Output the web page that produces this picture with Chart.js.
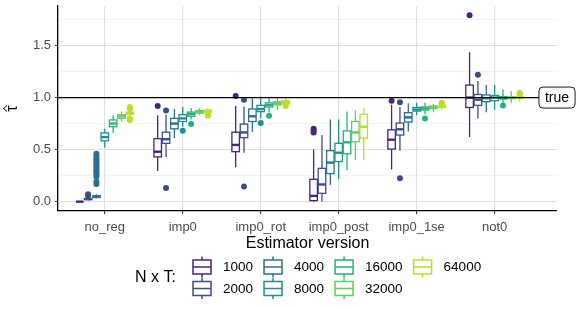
<!DOCTYPE html>
<html>
<head>
<meta charset="utf-8">
<script src="https://cdn.jsdelivr.net/npm/chart.js@4.4.1/dist/chart.umd.min.js"></script>
<style>
  body { margin: 0; background: #fff; }
  #wrap { width: 581px; height: 309px; }
</style>
</head>
<body>
<div id="wrap"><canvas id="grafico" width="581" height="309"></canvas></div>
<script>
// Categorías del eje x
const categories = ['no_reg', 'imp0', 'imp0_rot', 'imp0_post', 'imp0_1se', 'not0'];
// Series N x T
const seriesLabels = ['1000', '2000', '4000', '8000', '16000', '32000', '64000'];
const seriesColors = ['#482576', '#3E4C8A', '#2E6F8E', '#21908C', '#2AB07E', '#64CB5F', '#BBDF27'];

// Cajas por categoría: [bigote inf, q1, mediana, q3, bigote sup]
const box1000 = [[0, 0, 0, 0, 0], [0.295, 0.43, 0.48, 0.605, 0.83], [0.33, 0.48, 0.545, 0.667, 0.92],
                 [0.0, 0.01, 0.055, 0.215, 0.50], [0.31, 0.505, 0.595, 0.69, 0.93], [0.62, 0.905, 1.0, 1.12, 1.435]];
const box2000 = [[0.01, 0.02, 0.025, 0.03, 0.045], [0.43, 0.56, 0.60, 0.667, 0.835], [0.47, 0.615, 0.665, 0.745, 0.915],
                 [0.0, 0.08, 0.165, 0.32, 0.64], [0.49, 0.64, 0.695, 0.755, 0.91], [0.80, 0.925, 0.98, 1.03, 1.16]];
const box4000 = [[0.03, 0.04, 0.05, 0.055, 0.07], [0.61, 0.70, 0.75, 0.80, 0.89], [0.67, 0.77, 0.82, 0.89, 0.995],
                 [0.16, 0.27, 0.375, 0.49, 0.79], [0.675, 0.765, 0.81, 0.855, 0.945], [0.86, 0.96, 0.995, 1.025, 1.12]];
const box8000 = [[0.52, 0.585, 0.62, 0.66, 0.70], [0.72, 0.77, 0.80, 0.835, 0.91], [0.80, 0.865, 0.89, 0.925, 1.01],
                 [0.215, 0.385, 0.47, 0.56, 0.79], [0.83, 0.87, 0.885, 0.905, 0.95], [0.88, 0.97, 1.0, 1.02, 1.12]];
const box16000 = [[0.66, 0.72, 0.75, 0.785, 0.83], [0.79, 0.82, 0.84, 0.86, 0.90], [0.86, 0.91, 0.93, 0.95, 1.0],
                  [0.305, 0.46, 0.57, 0.68, 0.865], [0.84, 0.88, 0.895, 0.91, 0.95], [0.93, 0.985, 0.998, 1.01, 1.08]];
const box32000 = [[0.77, 0.80, 0.82, 0.835, 0.865], [0.83, 0.85, 0.865, 0.875, 0.90], [0.88, 0.93, 0.945, 0.96, 1.0],
                  [0.40, 0.575, 0.665, 0.77, 0.875], [0.86, 0.895, 0.905, 0.92, 0.94], [0.95, 0.99, 1.0, 1.005, 1.06]];
const box64000 = [[0.82, 0.84, 0.85, 0.86, 0.88], [0.84, 0.86, 0.87, 0.88, 0.90], [0.90, 0.94, 0.955, 0.97, 1.0],
                  [0.40, 0.61, 0.72, 0.84, 0.90], [0.88, 0.905, 0.915, 0.925, 0.945], [0.96, 0.995, 1.0, 1.005, 1.04]];

// Valores atípicos: [índice de categoría, valor]
const out1000 = [[1, 0.92], [2, 1.015], [3, 0.70], [3, 0.68], [3, 0.665], [4, 0.97], [5, 1.79]];
const out2000 = [[0, 0.06], [0, 0.07], [1, 0.875], [1, 0.13], [2, 0.98], [2, 0.145], [4, 0.955], [4, 0.225], [5, 1.22]];
const out4000 = [[0, 0.46], [0, 0.44], [0, 0.42], [0, 0.40], [0, 0.38], [0, 0.36], [0, 0.34], [0, 0.32],
                 [0, 0.30], [0, 0.28], [0, 0.26], [0, 0.24], [0, 0.19], [0, 0.17]];
const out8000 = [[1, 0.68], [2, 0.755]];
const out16000 = [[1, 0.745], [2, 0.825], [4, 0.80], [5, 0.925]];
const out32000 = [];
const out64000 = [[0, 0.91], [0, 0.90], [0, 0.89], [0, 0.80], [0, 0.79], [0, 0.785], [1, 0.825], [1, 0.835],
                  [2, 0.92], [4, 0.93], [4, 0.94], [4, 0.95], [5, 1.03], [5, 1.045]];

// Eje y
const yMin = -0.09;
const yMax = 1.88;
const yGridValues = [0, 0.25, 0.5, 0.75, 1, 1.25, 1.5, 1.75];
const yTickValues = [0, 0.5, 1, 1.5];
const yTickLabels = ['0.0', '0.5', '1.0', '1.5'];
const yTitle = 'τ';

// Línea de referencia
const trueValue = 1;
const trueLabel = 'true';

const boxes = [box1000, box2000, box4000, box8000, box16000, box32000, box64000];
const outliers = [out1000, out2000, out4000, out8000, out16000, out32000, out64000];

const FONT = 'Liberation Sans, Arial, sans-serif';
const dodgeWidth = 0.75;
const nSeries = seriesLabels.length;
const boxHalf = dodgeWidth / nSeries * 0.9 / 2;

function posX(ci, si) {
    return ci + 1 + (si - (nSeries - 1) / 2) * dodgeWidth / nSeries;
}

const boxplotPlugin = {
    id: 'boxplots',
    afterDatasetsDraw(chart) {
        const { ctx, scales: { x, y } } = chart;
        ctx.save();
        boxes.forEach((serie, si) => {
            serie.forEach((b, ci) => {
                const cx = posX(ci, si);
                const px = x.getPixelForValue(cx);
                const half = x.getPixelForValue(cx + boxHalf) - px;
                const [lo, q1, med, q3, hi] = b.map(v => y.getPixelForValue(v));
                ctx.strokeStyle = seriesColors[si];
                ctx.lineWidth = 1.3;
                // bigotes
                ctx.beginPath();
                ctx.moveTo(px, hi); ctx.lineTo(px, q3);
                ctx.moveTo(px, q1); ctx.lineTo(px, lo);
                ctx.stroke();
                // caja
                ctx.fillStyle = '#fff';
                ctx.fillRect(px - half, q3, 2 * half, q1 - q3);
                ctx.strokeRect(px - half, q3, 2 * half, q1 - q3);
                // mediana
                ctx.lineWidth = 2.4;
                ctx.beginPath();
                ctx.moveTo(px - half, med); ctx.lineTo(px + half, med);
                ctx.stroke();
            });
        });
        // línea del valor verdadero
        const ty = y.getPixelForValue(trueValue);
        ctx.strokeStyle = '#000';
        ctx.lineWidth = 1.2;
        ctx.beginPath();
        ctx.moveTo(chart.chartArea.left, ty);
        ctx.lineTo(chart.chartArea.right, ty);
        ctx.stroke();
        ctx.restore();
    },
    afterDraw(chart) {
        const { ctx, scales: { x, y } } = chart;
        ctx.save();
        // título del eje y (tau con acento circunflejo), girado
        const area = chart.chartArea;
        ctx.translate(13, (area.top + area.bottom) / 2);
        ctx.rotate(-Math.PI / 2);
        ctx.font = '16px ' + FONT;
        ctx.fillStyle = '#000';
        ctx.textAlign = 'center';
        ctx.textBaseline = 'alphabetic';
        ctx.fillText(yTitle, 0, 4);
        ctx.strokeStyle = '#000';
        ctx.lineWidth = 1;
        ctx.beginPath();
        ctx.moveTo(-3, -6); ctx.lineTo(0, -9.5); ctx.lineTo(3, -6);
        ctx.stroke();
        ctx.setTransform(1, 0, 0, 1, 0, 0);

        // etiqueta "true"
        const lx = x.getPixelForValue(x.max);
        const ly = y.getPixelForValue(trueValue);
        ctx.font = '14px ' + FONT;
        const tw = ctx.measureText(trueLabel).width;
        const w = tw + 12, h = 21;
        ctx.beginPath();
        ctx.roundRect(lx - w / 2, ly - h / 2, w, h, 4);
        ctx.fillStyle = '#fff';
        ctx.fill();
        ctx.strokeStyle = '#000';
        ctx.lineWidth = 0.9;
        ctx.stroke();
        ctx.fillStyle = '#000';
        ctx.textAlign = 'center';
        ctx.textBaseline = 'middle';
        ctx.fillText(trueLabel, lx, ly + 0.5);

        // leyenda
        ctx.font = '16px ' + FONT;
        ctx.textAlign = 'left';
        ctx.fillText('N x T:', 135, 278);
        ctx.font = '13.5px ' + FONT;
        const rows = [267, 288.5];
        let colX = 193;
        for (let c = 0; c * 2 < nSeries; c++) {
            let maxW = 0;
            for (let r = 0; r < 2; r++) {
                const si = c * 2 + r;
                if (si >= nSeries) continue;
                const cy = rows[r];
                ctx.strokeStyle = seriesColors[si];
                ctx.lineWidth = 1.5;
                ctx.beginPath();
                ctx.moveTo(colX + 9, cy - 10.5); ctx.lineTo(colX + 9, cy - 7);
                ctx.moveTo(colX + 9, cy + 7); ctx.lineTo(colX + 9, cy + 10.5);
                ctx.moveTo(colX, cy); ctx.lineTo(colX + 18, cy);
                ctx.stroke();
                ctx.strokeRect(colX, cy - 7, 18, 14);
                ctx.fillStyle = '#000';
                ctx.fillText(seriesLabels[si], colX + 30, cy + 0.5);
                maxW = Math.max(maxW, ctx.measureText(seriesLabels[si]).width);
            }
            colX += 30 + maxW + 11;
        }
        ctx.restore();
    }
};

const datasets = outliers.map((lista, si) => ({
    label: seriesLabels[si],
    data: lista.map(([ci, v]) => ({ x: posX(ci, si), y: v })),
    backgroundColor: seriesColors[si],
    borderWidth: 0,
    pointRadius: 3
}));

const ctx = document.getElementById('grafico').getContext('2d');
new Chart(ctx, {
    type: 'scatter',
    data: { datasets },
    options: {
        responsive: false,
        animation: false,
        events: [],
        layout: { padding: { left: 0, right: 24, top: 6, bottom: 56 } },
        plugins: { legend: { display: false }, tooltip: { enabled: false } },
        scales: {
            x: {
                type: 'linear',
                min: 0.4,
                max: 6.8,
                afterFit(s) { s.height = 42; s.paddingLeft = 0; s.paddingRight = 0; },
                afterBuildTicks(s) { s.ticks = categories.map((c, i) => ({ value: i + 1 })); },
                ticks: {
                    callback: v => categories[v - 1],
                    color: '#4D4D4D',
                    font: { family: FONT, size: 13 },
                    padding: 6,
                    maxRotation: 0,
                    autoSkip: false
                },
                grid: { color: '#E0E0E0', lineWidth: 1.1, tickColor: '#333', tickLength: 3 },
                border: { color: '#000', width: 1.3 },
                title: { display: true, text: 'Estimator version', color: '#000', font: { family: FONT, size: 16 }, padding: 0 }
            },
            y: {
                min: yMin,
                max: yMax,
                afterFit(s) { s.width = 58; s.paddingTop = 0; s.paddingBottom = 0; },
                afterBuildTicks(s) { s.ticks = yGridValues.map(v => ({ value: v })); },
                ticks: {
                    callback: v => { const i = yTickValues.indexOf(v); return i >= 0 ? yTickLabels[i] : ''; },
                    color: '#4D4D4D',
                    font: { family: FONT, size: 13 },
                    padding: 4
                },
                grid: {
                    color: c => yTickValues.includes(c.tick.value) ? '#E0E0E0' : '#EBEBEB',
                    lineWidth: c => yTickValues.includes(c.tick.value) ? 1.1 : 0.6,
                    tickColor: c => yTickValues.includes(c.tick.value) ? '#333' : 'rgba(0,0,0,0)',
                    tickLength: 3
                },
                border: { color: '#000', width: 1.3 },
                title: { display: false }
            }
        }
    },
    plugins: [boxplotPlugin]
});
</script>
</body>
</html>
